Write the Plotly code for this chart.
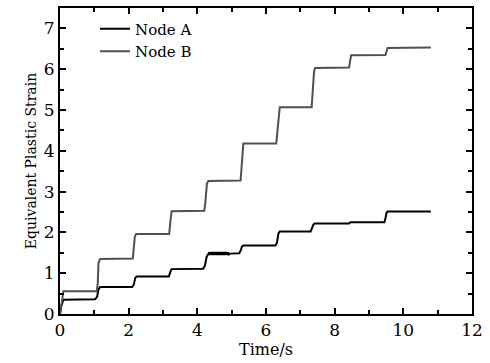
import plotly.graph_objects as go

# Node A (black)
t_a = [0, 0.04, 0.10, 1.02, 1.08, 1.12, 1.17, 2.10, 2.15, 2.19, 2.23, 3.17, 3.21, 3.25,
       4.17, 4.22, 4.27, 4.32,
       4.35, 4.38, 4.41, 4.44, 4.47, 4.50, 4.53, 4.56, 4.59, 4.62, 4.65, 4.68, 4.71, 4.74,
       4.77, 4.80, 4.83, 4.86, 4.89, 4.92, 4.95,
       5.22, 5.26, 5.30, 5.34, 6.28, 6.32, 6.36, 6.40, 7.30, 7.34, 7.38, 7.42,
       8.42, 8.46, 9.45, 9.48, 9.51, 9.54, 10.80]
v_a = [0, 0.20, 0.35, 0.36, 0.42, 0.60, 0.66, 0.66, 0.72, 0.88, 0.92, 0.92, 1.02, 1.10,
       1.11, 1.18, 1.40, 1.46,
       1.51, 1.45, 1.52, 1.45, 1.52, 1.45, 1.52, 1.45, 1.52, 1.45, 1.52, 1.45, 1.52, 1.45,
       1.52, 1.45, 1.52, 1.45, 1.51, 1.46, 1.48,
       1.49, 1.55, 1.65, 1.68, 1.68, 1.75, 1.97, 2.02, 2.02, 2.10, 2.19, 2.22,
       2.22, 2.25, 2.25, 2.35, 2.48, 2.51, 2.51]

# Node B (gray)
t_b = [0, 0.05, 0.10, 1.07, 1.10, 1.12, 1.17, 2.12, 2.15, 2.18, 2.22, 3.18, 3.22, 3.25,
       4.20, 4.23, 4.28, 4.32, 5.26, 5.30, 5.34, 6.30, 6.33, 6.38, 6.40, 7.33, 7.36, 7.40,
       7.43, 8.42, 8.45, 8.48, 9.48, 9.51, 9.54, 10.80]
v_b = [0, 0.30, 0.56, 0.56, 0.75, 1.25, 1.35, 1.36, 1.60, 1.90, 1.96, 1.96, 2.30, 2.52,
       2.53, 2.70, 3.20, 3.26, 3.27, 3.70, 4.18, 4.18, 4.50, 5.00, 5.07, 5.07, 5.50, 5.95,
       6.03, 6.04, 6.20, 6.34, 6.35, 6.45, 6.52, 6.53]

x_ticks = [0, 2, 4, 6, 8, 10, 12]
y_ticks = [0, 1, 2, 3, 4, 5, 6, 7]

FONT = "DejaVu Serif"

fig = go.Figure()
fig.add_trace(go.Scatter(x=t_a, y=v_a, mode="lines", name="Node A",
                         line=dict(color="#000000", width=2)))
fig.add_trace(go.Scatter(x=t_b, y=v_b, mode="lines", name="Node B",
                         line=dict(color="#505050", width=2)))

axis_common = dict(
    showline=True, linecolor="black", linewidth=2, mirror="ticks",
    ticks="inside", ticklen=6, tickwidth=2, tickcolor="black",
    showgrid=False, zeroline=False,
    tickfont=dict(family=FONT, size=17, color="black"),
)

fig.update_layout(
    template="none",
    width=490, height=363,
    margin=dict(l=60, r=18, t=8, b=49),
    paper_bgcolor="white", plot_bgcolor="white",
    font=dict(family=FONT, color="black"),
    showlegend=True,
    legend=dict(x=0.085, y=0.985, xanchor="left", yanchor="top",
                bgcolor="rgba(0,0,0,0)", borderwidth=0,
                font=dict(family=FONT, size=15, color="black"),
                tracegroupgap=0, itemwidth=30),
    xaxis=dict(range=[0, 12], tickvals=x_ticks, ticktext=[str(v) for v in x_ticks],
               minor=dict(dtick=1, ticks="inside", ticklen=4, tickwidth=1.5, tickcolor="black"),
               title=dict(text="Time/s", font=dict(family=FONT, size=16), standoff=0),
               **axis_common),
    yaxis=dict(range=[0, 7.5], tickvals=y_ticks, ticktext=[str(v) for v in y_ticks],
               minor=dict(dtick=0.5, ticks="inside", ticklen=4, tickwidth=1.5, tickcolor="black"),
               title=dict(text="Equivalent Plastic Strain", font=dict(family=FONT, size=14), standoff=4),
               **axis_common),
)

fig.write_html("out.html")
